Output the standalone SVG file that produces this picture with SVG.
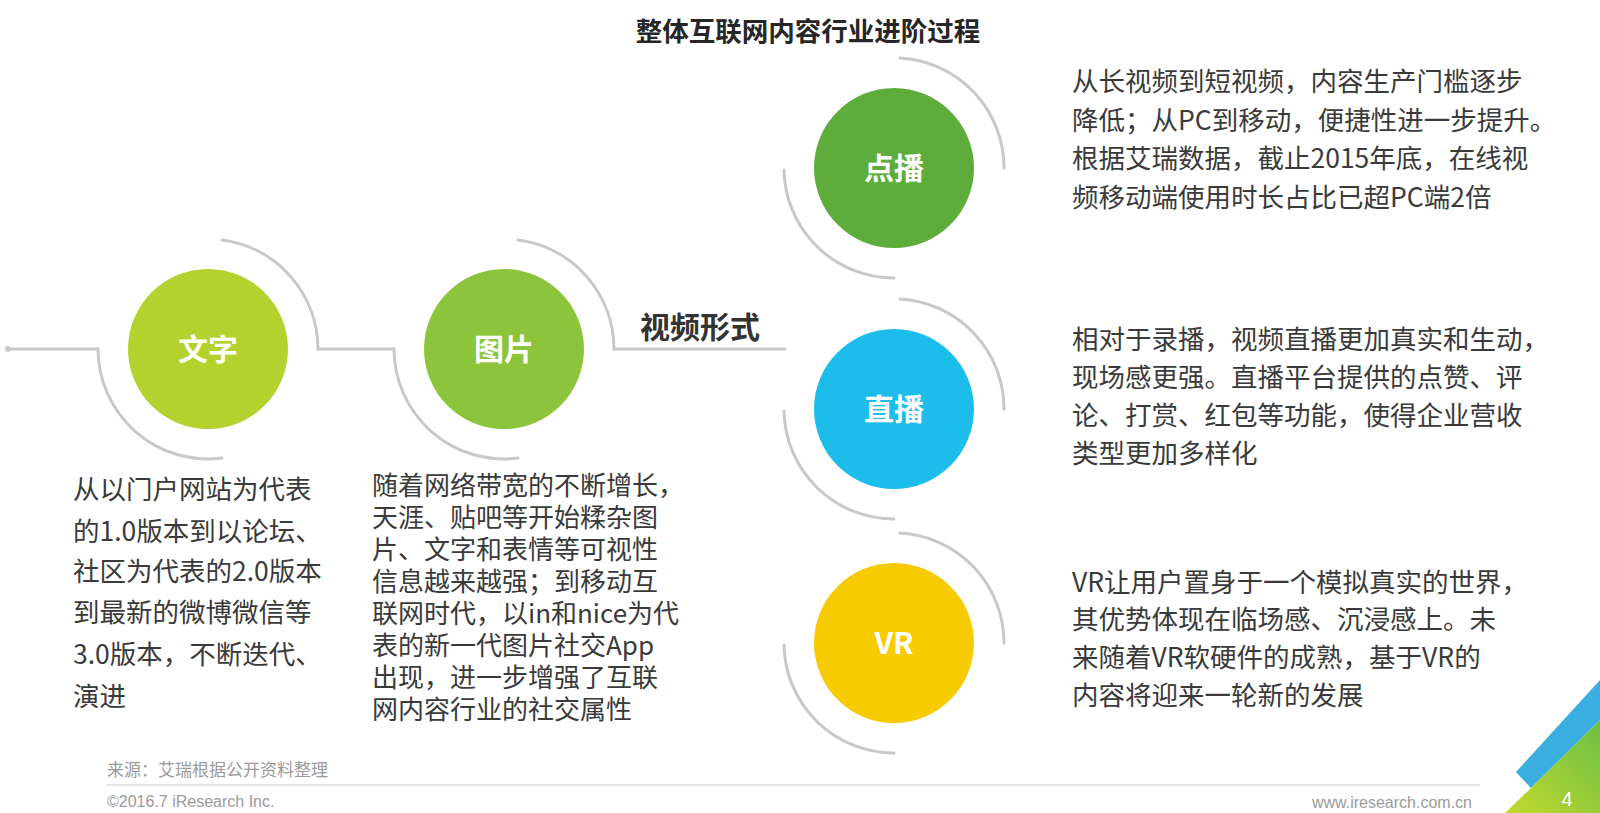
<svg xmlns="http://www.w3.org/2000/svg" width="1600" height="813" viewBox="0 0 1600 813">
  <defs>
    <style>
      .bg { fill: #ffffff; }
      .arc { fill: none; stroke: #c8c8c8; stroke-width: 3; stroke-linecap: round; }
      .lbl { font-family: "Noto Sans CJK SC", "Liberation Sans", sans-serif; font-weight: 700; font-size: 30px; fill: #ffffff; text-anchor: middle; }
      .body { font-family: "Noto Sans CJK SC", "Liberation Sans", sans-serif; font-size: 26.5px; fill: #3a3a3a; }
      .body2 { font-family: "Noto Sans CJK SC", "Liberation Sans", sans-serif; font-size: 26px; fill: #3a3a3a; }
      .title { font-family: "Noto Sans CJK SC", "Liberation Sans", sans-serif; font-weight: 700; font-size: 26.5px; fill: #262626; text-anchor: middle; }
      .sub { font-family: "Noto Sans CJK SC", "Liberation Sans", sans-serif; font-weight: 700; font-size: 30px; fill: #333333; }
      .foot { font-family: "Liberation Sans", "Noto Sans CJK SC", sans-serif; font-size: 16px; fill: #9a9a9a; }
    </style>
    <linearGradient id="cornerGrad" x1="0" y1="1" x2="1" y2="0">
      <stop offset="0" stop-color="#c3d92c"/>
      <stop offset="1" stop-color="#6cbf46"/>
    </linearGradient>
  </defs>

  <rect class="bg" x="0" y="0" width="1600" height="813"/>

  <text class="title" x="808" y="41">整体互联网内容行业进阶过程</text>

  <g id="connectors">
    <circle cx="8" cy="349" r="3" fill="#c8c8c8"/>
    <line class="arc" x1="8" y1="349" x2="98" y2="349"/>
    <path class="arc" d="M 98 349 A 110 110 0 0 0 222 458"/>
    <path class="arc" d="M 222 240 A 110 110 0 0 1 318 349"/>
    <line class="arc" x1="318" y1="349" x2="394" y2="349"/>
    <path class="arc" d="M 394 349 A 110 110 0 0 0 518 458"/>
    <path class="arc" d="M 518 240 A 110 110 0 0 1 614 349"/>
    <line class="arc" x1="614" y1="349" x2="785" y2="349"/>

    <path class="arc" d="M 900 58 A 110 110 0 0 1 1004 168"/>
    <path class="arc" d="M 784 170 A 110 110 0 0 0 894 278"/>
    <path class="arc" d="M 900 299 A 110 110 0 0 1 1004 409"/>
    <path class="arc" d="M 784 411 A 110 110 0 0 0 894 519"/>
    <path class="arc" d="M 900 533 A 110 110 0 0 1 1004 643"/>
    <path class="arc" d="M 784 645 A 110 110 0 0 0 894 753"/>
  </g>

  <text class="sub" x="640" y="338">视频形式</text>

  <g id="node-wenzi">
    <circle cx="208" cy="349" r="80" fill="#b3d22d"/>
    <text class="lbl" x="208" y="360">文字</text>
    <text class="body">
      <tspan x="73" y="499">从以门户网站为代表</tspan>
      <tspan x="73" y="541">的1.0版本到以论坛、</tspan>
      <tspan x="73" y="581">社区为代表的2.0版本</tspan>
      <tspan x="73" y="622">到最新的微博微信等</tspan>
      <tspan x="73" y="664">3.0版本，不断迭代、</tspan>
      <tspan x="73" y="706">演进</tspan>
    </text>
  </g>

  <g id="node-tupian">
    <circle cx="504" cy="349" r="80" fill="#8cc53c"/>
    <text class="lbl" x="504" y="360">图片</text>
    <text class="body2">
      <tspan x="372" y="495">随着网络带宽的不断增长，</tspan>
      <tspan x="372" y="527">天涯、贴吧等开始糅杂图</tspan>
      <tspan x="372" y="559">片、文字和表情等可视性</tspan>
      <tspan x="372" y="591">信息越来越强；到移动互</tspan>
      <tspan x="372" y="623">联网时代，以in和nice为代</tspan>
      <tspan x="372" y="655">表的新一代图片社交App</tspan>
      <tspan x="372" y="687">出现，进一步增强了互联</tspan>
      <tspan x="372" y="719">网内容行业的社交属性</tspan>
    </text>
  </g>

  <g id="node-dianbo">
    <circle cx="894" cy="168" r="80" fill="#5eac3b"/>
    <text class="lbl" x="894" y="179">点播</text>
    <text class="body">
      <tspan x="1072" y="91">从长视频到短视频，内容生产门槛逐步</tspan>
      <tspan x="1072" y="130">降低；从PC到移动，便捷性进一步提升。</tspan>
      <tspan x="1072" y="168">根据艾瑞数据，截止2015年底，在线视</tspan>
      <tspan x="1072" y="207">频移动端使用时长占比已超PC端2倍</tspan>
    </text>
  </g>

  <g id="node-zhibo">
    <circle cx="894" cy="409" r="80" fill="#1cbdea"/>
    <text class="lbl" x="894" y="420">直播</text>
    <text class="body">
      <tspan x="1072" y="349">相对于录播，视频直播更加真实和生动，</tspan>
      <tspan x="1072" y="387">现场感更强。直播平台提供的点赞、评</tspan>
      <tspan x="1072" y="425">论、打赏、红包等功能，使得企业营收</tspan>
      <tspan x="1072" y="463">类型更加多样化</tspan>
    </text>
  </g>

  <g id="node-vr">
    <circle cx="894" cy="643" r="80" fill="#f7cb02"/>
    <text class="lbl" x="894" y="654">VR</text>
    <text class="body">
      <tspan x="1072" y="592">VR让用户置身于一个模拟真实的世界，</tspan>
      <tspan x="1072" y="629">其优势体现在临场感、沉浸感上。未</tspan>
      <tspan x="1072" y="667">来随着VR软硬件的成熟，基于VR的</tspan>
      <tspan x="1072" y="705">内容将迎来一轮新的发展</tspan>
    </text>
  </g>

  <g id="footer">
    <text class="foot" x="107" y="776" style="font-family:'Noto Sans CJK SC', sans-serif; font-size:17px">来源：艾瑞根据公开资料整理</text>
    <line x1="106" y1="785" x2="1480" y2="785" stroke="#dddddd" stroke-width="1.5"/>
    <text class="foot" x="107" y="807">©2016.7 iResearch Inc.</text>
    <text class="foot" x="1472" y="808" text-anchor="end">www.iresearch.com.cn</text>
    <polygon points="1516,772 1600,680 1600,720 1531,788" fill="#3aaee0"/>
    <polygon points="1531,788 1600,720 1600,813 1505,813" fill="url(#cornerGrad)"/>
    <text x="1567" y="806" font-family="Liberation Sans, sans-serif" font-size="20" fill="#ffffff" text-anchor="middle">4</text>
  </g>
</svg>
